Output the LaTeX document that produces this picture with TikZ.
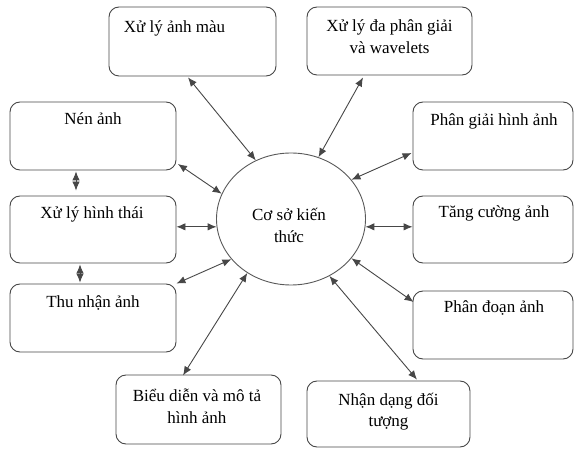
\documentclass[tikz,border=0pt]{standalone}
\usepackage{fontspec}
\setmainfont{Liberation Serif}
\usetikzlibrary{arrows.meta,calc,shapes.geometric}

\begin{document}
\begin{tikzpicture}[x=1pt,y=-1pt,
  box/.style={draw=black!72,line width=0.9pt,rounded corners=10pt,inner sep=0pt},
  lbl/.style={inner sep=0pt,align=center,font=\fontsize{17}{21.5}\selectfont,anchor=base},
  tip/.style={Latex[length=9pt,width=7.5pt,color=black!90]},
  link/.style={draw=black!72,line width=0.9pt,{Latex[length=9pt,width=7.5pt]}-{Latex[length=9pt,width=7.5pt]}}
]
\useasboundingbox (0,0) rectangle (574,449);

% central knowledge base
\node[ellipse,draw=black!65,line width=0.9pt,minimum width=149pt,minimum height=132pt,inner sep=0pt] (kb) at (291,219) {};
% two-line captions are placed by the baseline of their last line
\node[lbl] (kbt) at (289,242.5) {Cơ sở kiến\\thức};

% surrounding boxes
\node[box,minimum width=167pt,minimum height=69pt] (mau) at (192.5,41.5) {};
\node[box,minimum width=165pt,minimum height=68pt] (dpg) at (389.5,41) {};
\node[box,minimum width=166pt,minimum height=68pt] (nen) at (93,136) {};
\node[box,minimum width=166pt,minimum height=67pt] (ht) at (93,229.5) {};
\node[box,minimum width=166pt,minimum height=68pt] (thu) at (93,318) {};
\node[box,minimum width=160pt,minimum height=68pt] (pg) at (493,136) {};
\node[box,minimum width=160pt,minimum height=67pt] (tc) at (493,229.5) {};
\node[box,minimum width=160pt,minimum height=68pt] (pd) at (493,325) {};
\node[box,minimum width=165pt,minimum height=69pt] (bd) at (198.5,409.5) {};
\node[box,minimum width=163pt,minimum height=66pt] (nd) at (388.5,414) {};

% box captions
\node[lbl] (mau-t) at (174.5,33) {Xử lý ảnh màu};
\node[lbl] (dpg-t) at (389.5,53.5) {Xử lý đa phân giải\\và wavelets};
\node[lbl] (nen-t) at (93,125) {Nén ảnh};
\node[lbl] (ht-t) at (92,219) {Xử lý hình thái};
\node[lbl] (thu-t) at (93,308) {Thu nhận ảnh};
\node[lbl] (pg-t) at (494,126) {Phân giải hình ảnh};
\node[lbl] (tc-t) at (494,218) {Tăng cường ảnh};
\node[lbl] (pd-t) at (494,313) {Phân đoạn ảnh};
\node[lbl] (bd-t) at (197,423.5) {Biểu diễn và mô tả\\hình ảnh};
\node[lbl] (nd-t) at (388.5,427) {Nhận dạng đối\\tượng};

% links to the knowledge base
\draw[link] ($(mau.south)+(-4.5,1)$) -- (kb.121);
\draw[link] ($(dpg.south)+(-26.5,2)$) -- (kb.66);
\draw[link] ($(nen.east)+(1.5,28)$) -- (kb.160);
\draw[link] (ht.east |- kb.186) -- (kb.186);
\draw[link] (thu.north east) -- (kb.214.8);
\draw[link] ($(bd.south)+(-15.5,-69)$) -- (kb.231.6);
\draw[link] ($(nd.north)+(28.5,-1)$) -- (kb.304.3);
\draw[link] ($(pd.west)+(1,-23)$) -- (kb.327.8);
\draw[link] (tc.west |- kb.354) -- (kb.354);
\draw[link] ($(pg.west)+(-1,17)$) -- (kb.33.5);

% links between the left-hand boxes
\draw[link] ($(nen.south)+(-17,1)$) -- ($(ht.north)+(-17,-5)$);
\draw[link] ($(ht.south)+(-13,1)$) -- ($(thu.north)+(-13,-1)$);
\end{tikzpicture}
\end{document}
